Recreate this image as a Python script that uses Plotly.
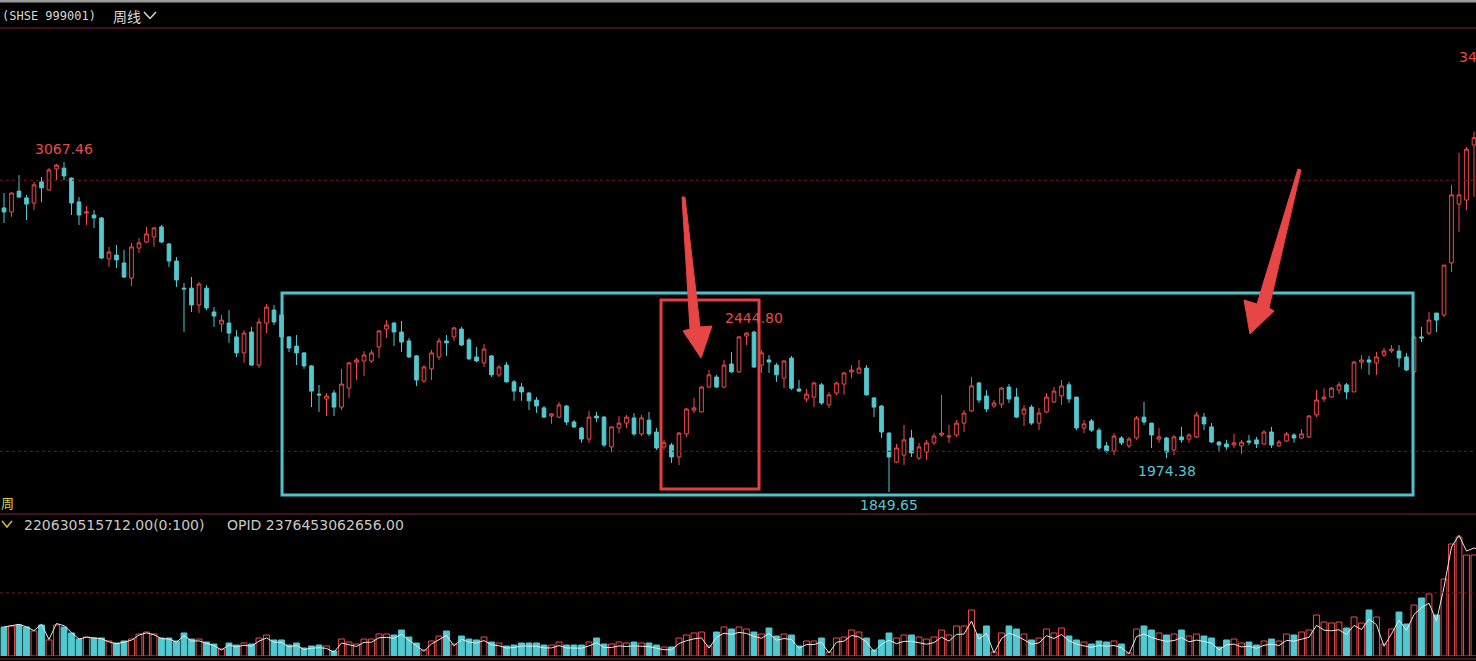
import plotly.graph_objects as go

W, H = 1476, 661

# ---- weekly OHLC (SHSE 999001) ----
opens = [2898, 2883, 2960, 2935, 2916, 2994, 2964, 3042, 3045, 3008,
         2920, 2879, 2872, 2861, 2710, 2724, 2695, 2639, 2750, 2772,
         2791, 2828, 2765, 2702, 2602, 2602, 2540, 2602, 2514, 2470,
         2473, 2422, 2363, 2440, 2318, 2473, 2521, 2503, 2422, 2388,
         2363, 2315, 2211, 2193, 2215, 2163, 2233, 2329, 2333, 2333,
         2385, 2451, 2473, 2440, 2407, 2352, 2259, 2304, 2348, 2407,
         2422, 2451, 2411, 2348, 2326, 2352, 2282, 2318, 2256, 2237,
         2215, 2189, 2160, 2130, 2126, 2167, 2108, 2086, 2045, 2130,
         2126, 2016, 2086, 2104, 2123, 2064, 2115, 2071, 2016, 2023,
         1979, 2064, 2152, 2145, 2237, 2274, 2237, 2322, 2293, 2425,
         2440, 2318, 2337, 2318, 2270, 2344, 2230, 2193, 2200, 2245,
         2171, 2215, 2248, 2293, 2289, 2307, 2197, 2167, 2067, 1960,
         1986, 2049, 1975, 1997, 2031, 2060, 2053, 2060, 2104, 2149,
         2252, 2204, 2167, 2174, 2237, 2200, 2138, 2163, 2104, 2145,
         2182, 2204, 2245, 2200, 2086, 2112, 2078, 2020, 2001, 2049,
         2020, 2049, 2126, 2104, 2045, 2049, 2005, 2053, 2045, 2053,
         2126, 2090, 2034, 2027, 2023, 2020, 2038, 2042, 2027, 2071,
         2020, 2038, 2060, 2049, 2053, 2134, 2193, 2200, 2226, 2245,
         2219, 2329, 2337, 2326, 2355, 2370, 2370, 2348, 2293, 2422,
         2436, 2510, 2503, 2695, 2912, 2927, 3130, 3165, 3258]
highs = [2953, 2955, 3019, 2946, 2994, 3012, 3045, 3060, 3067.46, 3010,
         2938, 2905, 2890, 2864, 2754, 2761, 2743, 2769, 2787, 2828,
         2828, 2835, 2769, 2717, 2621, 2643, 2625, 2613, 2532, 2503,
         2521, 2447, 2447, 2459, 2492, 2543, 2540, 2510, 2425, 2429,
         2366, 2318, 2245, 2215, 2226, 2304, 2329, 2344, 2370, 2374,
         2447, 2484, 2477, 2481, 2418, 2355, 2318, 2374, 2418, 2429,
         2459, 2459, 2418, 2385, 2396, 2355, 2318, 2329, 2263, 2252,
         2219, 2200, 2167, 2141, 2182, 2171, 2115, 2090, 2149, 2145,
         2130, 2090, 2130, 2134, 2141, 2134, 2145, 2086, 2042, 2031,
         2071, 2160, 2197, 2241, 2300, 2282, 2337, 2366, 2425, 2440,
         2444.80, 2374, 2355, 2326, 2337, 2352, 2263, 2230, 2256, 2252,
         2219, 2256, 2292, 2318, 2337, 2318, 2200, 2171, 2071, 2027,
         2097, 2079, 2031, 2042, 2067, 2208, 2097, 2115, 2152, 2274,
         2256, 2226, 2189, 2237, 2248, 2233, 2171, 2171, 2160, 2215,
         2237, 2263, 2256, 2200, 2115, 2119, 2086, 2034, 2067, 2056,
         2053, 2130, 2182, 2104, 2086, 2053, 2060, 2090, 2067, 2145,
         2141, 2104, 2038, 2042, 2064, 2042, 2060, 2053, 2078, 2090,
         2042, 2071, 2067, 2082, 2134, 2226, 2233, 2237, 2256, 2252,
         2333, 2355, 2352, 2366, 2381, 2392, 2392, 2363, 2429, 2459,
         2514, 2510, 2687, 2983, 3101, 3123, 3180, 3239, 3406.79]
lows = [2842, 2865, 2935, 2853, 2890, 2920, 2962, 3001, 3001, 2872,
        2835, 2835, 2824, 2710, 2680, 2676, 2640, 2610, 2732, 2769,
        2754, 2769, 2680, 2606, 2440, 2514, 2510, 2521, 2459, 2440,
        2400, 2348, 2326, 2315, 2307, 2436, 2466, 2418, 2366, 2318,
        2304, 2163, 2145, 2130, 2130, 2152, 2197, 2263, 2278, 2326,
        2344, 2418, 2388, 2366, 2344, 2241, 2252, 2263, 2337, 2352,
        2407, 2388, 2337, 2329, 2311, 2274, 2274, 2254, 2186, 2186,
        2152, 2141, 2123, 2101, 2123, 2097, 2086, 2031, 2031, 2108,
        2016, 1997, 2067, 2086, 2056, 2056, 2056, 2005, 2005, 1957,
        1949, 2053, 2141, 2145, 2233, 2233, 2233, 2289, 2289, 2392,
        2307, 2289, 2289, 2256, 2233, 2226, 2219, 2182, 2163, 2171,
        2160, 2208, 2208, 2270, 2285, 2205, 2126, 2049, 1849.65, 1957,
        1949, 1979, 1968, 1968, 2023, 2053, 2031, 2053, 2071, 2145,
        2178, 2145, 2160, 2160, 2178, 2123, 2093, 2097, 2078, 2141,
        2178, 2171, 2178, 2078, 2067, 2071, 2005, 1994, 1986, 2023,
        2012, 2042, 2097, 2012, 2031, 1974.38, 1986, 2031, 2031, 2049,
        2078, 2031, 1997, 2005, 2012, 1990, 2023, 2012, 2023, 2012,
        2016, 2034, 2031, 2045, 2049, 2126, 2182, 2197, 2211, 2193,
        2219, 2304, 2282, 2282, 2348, 2363, 2311, 2296, 2282, 2403,
        2429, 2440, 2495, 2662, 2809, 2890, 2939, 3100, 3095]
closes = [2883, 2953, 2938, 2912, 2983, 2972, 3038, 3056, 3016, 2916,
          2872, 2883, 2861, 2713, 2735, 2706, 2643, 2754, 2769, 2802,
          2824, 2772, 2702, 2632, 2599, 2540, 2617, 2529, 2499, 2484,
          2436, 2363, 2436, 2318, 2477, 2532, 2477, 2422, 2381, 2363,
          2315, 2222, 2208, 2204, 2163, 2248, 2326, 2337, 2355, 2363,
          2444, 2466, 2440, 2403, 2348, 2263, 2311, 2363, 2407, 2400,
          2455, 2392, 2341, 2333, 2377, 2282, 2311, 2256, 2222, 2219,
          2186, 2167, 2126, 2138, 2171, 2108, 2090, 2045, 2126, 2123,
          2023, 2090, 2104, 2126, 2064, 2123, 2064, 2012, 2031, 1979,
          2067, 2156, 2160, 2237, 2282, 2237, 2318, 2293, 2422, 2436,
          2311, 2363, 2329, 2282, 2333, 2233, 2222, 2211, 2252, 2178,
          2208, 2252, 2289, 2300, 2307, 2208, 2163, 2071, 1979, 2012,
          2042, 1994, 2016, 2031, 2056, 2067, 2056, 2104, 2141, 2241,
          2189, 2156, 2178, 2233, 2193, 2126, 2156, 2104, 2141, 2200,
          2222, 2241, 2193, 2086, 2101, 2078, 2012, 2001, 2056, 2031,
          2045, 2123, 2108, 2060, 2053, 1997, 2053, 2042, 2060, 2134,
          2101, 2034, 2023, 2016, 2031, 2034, 2034, 2027, 2071, 2023,
          2034, 2064, 2049, 2064, 2130, 2189, 2200, 2233, 2245, 2219,
          2329, 2337, 2329, 2348, 2370, 2377, 2344, 2300, 2422, 2418,
          2484, 2484, 2687, 2946, 2946, 3115, 3157, 3234, 3285]
# weekly volume, 亿股
volumes = [634, 656, 677, 634, 546, 677, 350, 677, 634, 503,
           371, 415, 393, 393, 328, 284, 328, 371, 481, 524,
           481, 393, 393, 328, 503, 371, 371, 306, 262, 153,
           284, 240, 284, 262, 393, 459, 350, 350, 240, 284,
           175, 219, 240, 219, 109, 371, 306, 262, 371, 371,
           481, 481, 459, 568, 415, 284, 131, 328, 437, 546,
           262, 437, 371, 350, 415, 306, 284, 219, 240, 284,
           284, 284, 240, 240, 306, 240, 240, 240, 306, 393,
           262, 262, 306, 284, 306, 284, 284, 240, 197, 197,
           393, 459, 503, 524, 219, 524, 634, 590, 634, 590,
           524, 481, 612, 437, 481, 459, 219, 328, 328, 393,
           87, 393, 415, 568, 524, 393, 131, 350, 503, 393,
           459, 459, 415, 371, 415, 568, 459, 656, 656, 1005,
           481, 656, 87, 503, 656, 590, 481, 350, 393, 590,
           503, 612, 437, 350, 306, 262, 328, 306, 328, 262,
           66, 590, 656, 568, 503, 459, 481, 568, 437, 481,
           437, 393, 197, 350, 371, 284, 306, 240, 328, 371,
           328, 481, 459, 524, 568, 896, 743, 721, 743, 612,
           852, 721, 1005, 852, 262, 590, 961, 699, 1114, 1267,
           1355, 896, 1682, 2447, 2600, 2206.3, 2206.3, 2100, 2300]

idx = list(range(len(opens)))
# 成交额 (亿元): volume x average share price
amount = [v * (o + h + l + c) / 4 * 0.003474
          for v, o, h, l, c in zip(volumes, opens, highs, lows, closes)]

RED = "#f04a4a"
CYAN = "#52c8d0"
DARKRED = "#8a2230"


def fx(px):
    return px / W


def fy(py):
    return 1 - py / H


fig = go.Figure()

fig.add_trace(go.Candlestick(
    x=idx, open=opens, high=highs, low=lows, close=closes,
    increasing=dict(line=dict(color=RED, width=1), fillcolor="#000000"),
    decreasing=dict(line=dict(color=CYAN, width=1), fillcolor=CYAN),
    whiskerwidth=0, xaxis="x", yaxis="y", hoverinfo="skip", showlegend=False))

up = [c >= o for o, c in zip(opens, closes)]
fig.add_trace(go.Bar(
    x=idx, y=volumes, xaxis="x2", yaxis="y2",
    marker=dict(color=["#000000" if u else CYAN for u in up],
                line=dict(color=[RED if u else CYAN for u in up], width=1)),
    hoverinfo="skip", showlegend=False))

fig.add_trace(go.Scatter(
    x=idx, y=amount, xaxis="x2", yaxis="y3", mode="lines",
    line=dict(color="#e8e8e8", width=1), hoverinfo="skip", showlegend=False))

XR = [-0.533, 196.267]
fig.update_layout(
    width=W, height=H, margin=dict(l=0, r=0, t=0, b=0),
    paper_bgcolor="#000000", plot_bgcolor="#000000",
    bargap=0.22, boxgap=0.3,
    xaxis=dict(range=XR, visible=False, rangeslider=dict(visible=False),
               anchor="y"),
    xaxis2=dict(range=XR, visible=False, anchor="y2"),
    yaxis=dict(domain=[fy(513), fy(28)], range=[1772.2, 3561.9],
               visible=False, anchor="x"),
    yaxis2=dict(domain=[fy(656), fy(520)], range=[0, 2971.6],
                visible=False, anchor="x2"),
    yaxis3=dict(domain=[fy(656), fy(520)], range=[0, 29936],
                visible=False, overlaying="y2", anchor="x2"),
    showlegend=False,
)

shapes = []
# top bar and separators
shapes.append(dict(type="rect", xref="paper", yref="paper", x0=0, x1=1,
                   y0=fy(2.5), y1=1, fillcolor="#9c9c9c", line=dict(width=0)))
for py in (28, 514, 659):
    shapes.append(dict(type="line", xref="paper", yref="paper", x0=0, x1=1,
                       y0=fy(py), y1=fy(py), line=dict(color=DARKRED, width=1.2)))
# dotted reference levels
for lvl in (3000, 2000):
    shapes.append(dict(type="line", xref="paper", yref="y", x0=0, x1=1,
                       y0=lvl, y1=lvl, line=dict(color="#6a1c22", width=1, dash="dot")))
shapes.append(dict(type="line", xref="paper", yref="y2", x0=0, x1=1,
                   y0=1380, y1=1380, line=dict(color="#6a1c22", width=1, dash="dot")))
# cyan consolidation box and red box
shapes.append(dict(type="rect", xref="x", yref="y", x0=37.07, x1=187.87,
                   y0=1838.7, y1=2584, line=dict(color="#4ec3cb", width=3)))
shapes.append(dict(type="rect", xref="x", yref="y", x0=87.6, x1=100.67,
                   y0=1860.8, y1=2558, line=dict(color="#e53e3e", width=3)))


def poly(pts):
    return "M " + " L ".join(f"{fx(x):.5f},{fy(y):.5f}" for x, y in pts) + " Z"


arrow1 = [(682, 197), (685, 197), (700, 327), (712, 326), (701, 358),
          (683, 331), (690, 329)]
arrow2 = [(1298, 169), (1301, 170), (1269, 308), (1274, 311), (1250, 334),
          (1244, 300), (1257, 304)]
for a in (arrow1, arrow2):
    shapes.append(dict(type="path", xref="paper", yref="paper", path=poly(a),
                       fillcolor="#e84545", line=dict(color="#e84545", width=1)))
# header chevrons
shapes.append(dict(type="path", xref="paper", yref="paper",
                   path=f"M {fx(144)},{fy(12)} L {fx(150)},{fy(18.5)} L {fx(156)},{fy(12)}",
                   line=dict(color="#d8d8d8", width=1.5)))
shapes.append(dict(type="path", xref="paper", yref="paper",
                   path=f"M {fx(2)},{fy(521)} L {fx(7)},{fy(527)} L {fx(12)},{fy(521)}",
                   line=dict(color="#c8c040", width=1.5)))
fig.update_layout(shapes=shapes)

LBL = dict(family="DejaVu Sans", size=14)
ann = []
for i in (8, 100):
    ann.append(dict(x=i, y=highs[i], xref="x", yref="y", text=f"{highs[i]:.2f}",
                    showarrow=False, yanchor="bottom", yshift=3,
                    font=dict(LBL, color="#e84a4a")))
for i in (118, 155):
    ann.append(dict(x=i, y=lows[i], xref="x", yref="y", text=f"{lows[i]:.2f}",
                    showarrow=False, yanchor="top", yshift=-3,
                    font=dict(LBL, color=CYAN)))
imax = max(range(len(highs)), key=lambda k: highs[k])
ann.append(dict(x=196, y=highs[imax], xref="x", yref="y", text=f"{highs[imax]:.2f}",
                showarrow=False, xanchor="left", xshift=-17, yanchor="bottom", yshift=3,
                font=dict(LBL, color="#e84a4a")))

ann.append(dict(x=0, y=fy(16), xref="paper", yref="paper", text="(SHSE 999001)",
                showarrow=False, xanchor="left", yanchor="middle",
                font=dict(family="DejaVu Sans Mono", size=12, color="#d8d8d8")))
ann.append(dict(x=fx(111), y=fy(16), xref="paper", yref="paper", text="周线",
                showarrow=False, xanchor="left", yanchor="middle",
                font=dict(family="Noto Sans CJK SC", size=14, color="#d8d8d8")))
ann.append(dict(x=fx(-1), y=fy(502), xref="paper", yref="paper", text="周",
                showarrow=False, xanchor="left", yanchor="middle",
                font=dict(family="Noto Sans CJK SC", size=13, color="#d8cc50")))
ann.append(dict(x=fx(22), y=fy(525), xref="paper", yref="paper",
                text="220630515712.00(0:100)", showarrow=False,
                xanchor="left", yanchor="middle", font=dict(LBL, color="#c8c8c8")))
ann.append(dict(x=fx(225), y=fy(525), xref="paper", yref="paper",
                text="OPID 2376453062656.00", showarrow=False,
                xanchor="left", yanchor="middle", font=dict(LBL, color="#c8c8c8")))
fig.update_layout(annotations=ann)

fig.write_html("out.html", config={"displayModeBar": False},
               post_script="document.body.style.margin='0px';"
                           "document.body.style.background='#000';")
